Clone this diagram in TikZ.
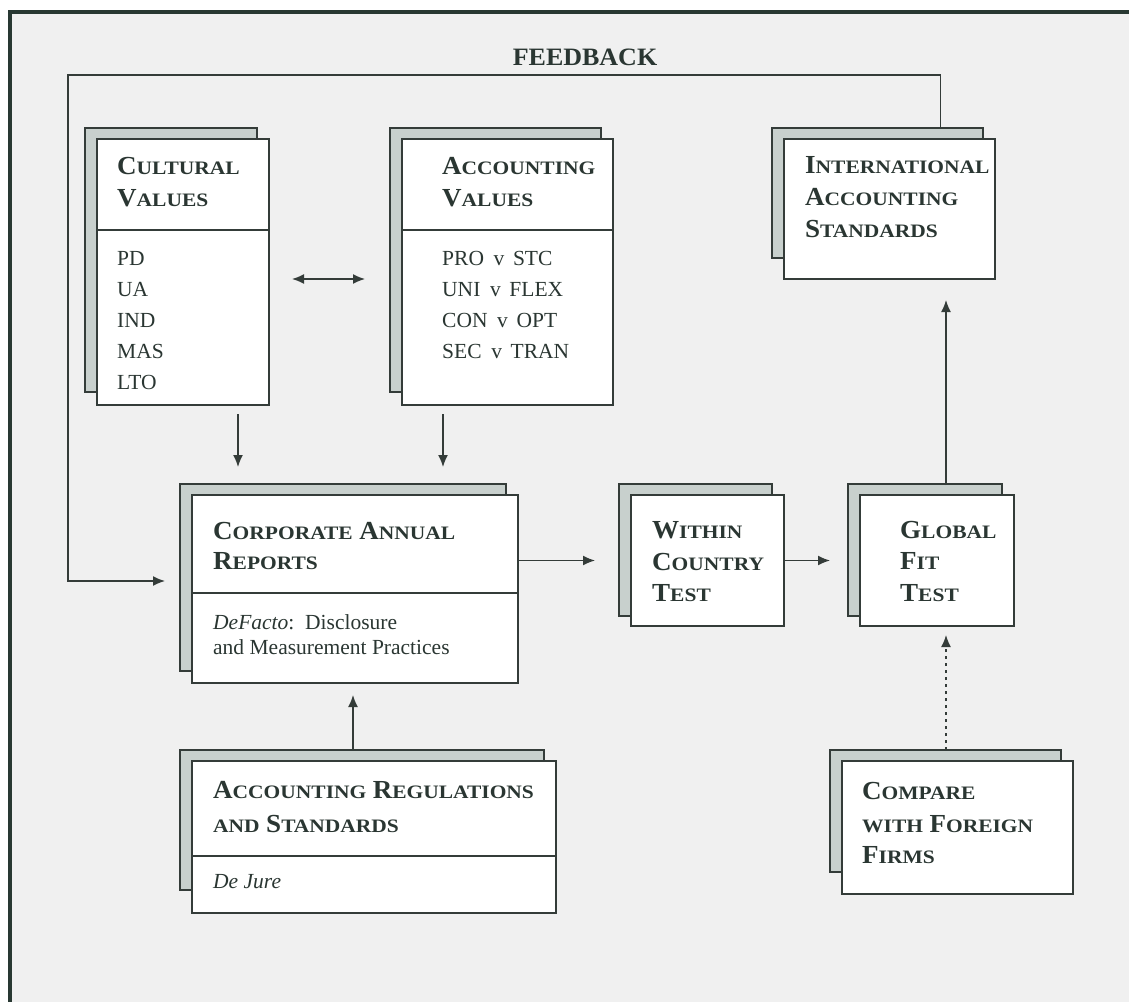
\documentclass[tikz,border=0pt]{standalone}
\usepackage{fontspec}
\setmainfont{Liberation Serif}
\newfontfamily\bigcapfont[FakeStretch=1.04]{Liberation Serif}
\newfontfamily\smallcapfont[FakeStretch=1.13]{Liberation Serif}
\usetikzlibrary{arrows.meta,calc}
\definecolor{ink}{RGB}{42,54,50}
\definecolor{linec}{RGB}{52,60,57}
\definecolor{shade}{RGB}{200,208,205}
\definecolor{bgc}{RGB}{240,240,240}
\definecolor{framec}{RGB}{40,56,50}
\newcommand\SC[2]{{\bigcapfont\bfseries\fontsize{26}{26}\selectfont #1}{\smallcapfont\bfseries\fontsize{19}{19}\selectfont #2}}
\newcommand\SL[1]{{\smallcapfont\bfseries\fontsize{19}{19}\selectfont #1}}
\newcommand\dbox[6]{%
  \draw[backbox] (#2-11,#3-10) rectangle ++(#4,#6);
  \node[frontbox, anchor=north west, minimum width=#4pt, minimum height=#5pt] (#1) at (#2,#3) {};}
\tikzset{
  frontbox/.style={draw=linec, line width=2pt, fill=white, inner sep=0pt},
  backbox/.style={draw=linec, line width=2pt, fill=shade},
  divline/.style={draw=linec, line width=2pt},
  ttl/.style={anchor=base west, inner sep=0pt, text=ink, font=\bfseries\fontsize{26}{26}\selectfont},
  bod/.style={anchor=base west, inner sep=0pt, text=ink, font=\fontsize{21.5}{21.5}\selectfont},
  arr/.style={draw=linec, line width=1.5pt, -{Latex[length=12pt,width=10pt]}},
  darr/.style={draw=linec, line width=1.5pt, {Latex[length=12pt,width=10pt]}-{Latex[length=12pt,width=10pt]}},
  dotarr/.style={arr, dash pattern=on 3pt off 4pt},
}
\begin{document}
\begin{tikzpicture}[x=1pt, y=-1pt]
\useasboundingbox (0,0) rectangle (1129,1001);
\fill[bgc] (10,12) rectangle (1140,1010);
\draw[framec, line width=4pt] (10,1010) -- (10,12) -- (1140,12);

% boxes
\dbox{cv}{96}{138}{172}{266}{264}
\dbox{av}{401}{138}{211}{266}{264}
\dbox{ias}{783}{138}{211}{140}{130}
\dbox{car}{191}{494}{326}{188}{187}
\dbox{wct}{630}{494}{153}{131}{132}
\dbox{gft}{859}{494}{154}{131}{132}
\dbox{reg}{191}{760}{364}{152}{140}
\dbox{cmp}{841}{760}{231}{133}{122}

% dividers
\draw[divline] ([yshift=-92pt]cv.north west) -- ([yshift=-92pt]cv.north east);
\draw[divline] ([yshift=-92pt]av.north west) -- ([yshift=-92pt]av.north east);
\draw[divline] ([yshift=-99pt]car.north west) -- ([yshift=-99pt]car.north east);
\draw[divline] ([yshift=-96pt]reg.north west) -- ([yshift=-96pt]reg.north east);

% texts
\node[ttl] (cvt1) at (117,174) {\SC{C}{ULTURAL}};
\node[ttl] (cvt2) at (117,206) {\SC{V}{ALUES}};
\node[bod] (cvb1) at (117,265) {PD};
\node[bod] (cvb2) at (117,296) {UA};
\node[bod] (cvb3) at (117,327) {IND};
\node[bod] (cvb4) at (117,358) {MAS};
\node[bod] (cvb5) at (117,389) {LTO};

\node[ttl] (avt1) at (442,174) {\SC{A}{CCOUNTING}};
\node[ttl] (avt2) at (442,206) {\SC{V}{ALUES}};
\node[bod] (avb1) at (442,265) {PRO\hspace{0.45em}v\hspace{0.4em}STC};
\node[bod] (avb2) at (442,296) {UNI\hspace{0.45em}v\hspace{0.4em}FLEX};
\node[bod] (avb3) at (442,327) {CON\hspace{0.45em}v\hspace{0.4em}OPT};
\node[bod] (avb4) at (442,358) {SEC\hspace{0.45em}v\hspace{0.4em}TRAN};

\node[ttl] (iat1) at (805,173) {\SC{I}{NTERNATIONAL}};
\node[ttl] (iat2) at (805,205) {\SC{A}{CCOUNTING}};
\node[ttl] (iat3) at (805,237) {\SC{S}{TANDARDS}};

\node[ttl] (cat1) at (213,539) {\SC{C}{ORPORATE} \SC{A}{NNUAL}};
\node[ttl] (cat2) at (213,569) {\SC{R}{EPORTS}};
\node[bod] (cab1) at (213,629) {\textit{DeFacto}:\ \ Disclosure};
\node[bod] (cab2) at (213,654) {and Measurement Practices};

\node[ttl] (wct1) at (652,538) {\SC{W}{ITHIN}};
\node[ttl] (wct2) at (652,570) {\SC{C}{OUNTRY}};
\node[ttl] (wct3) at (652,601) {\SC{T}{EST}};

\node[ttl] (gft1) at (900,538) {\SC{G}{LOBAL}};
\node[ttl] (gft2) at (900,569) {\SC{F}{IT}};
\node[ttl] (gft3) at (900,601) {\SC{T}{EST}};

\node[ttl] (rgt1) at (213,798) {\SC{A}{CCOUNTING} \SC{R}{EGULATIONS}};
\node[ttl] (rgt2) at (213,832) {\SL{AND} \SC{S}{TANDARDS}};
\node[bod] (rgb1) at (213,888) {\textit{De Jure}};

\node[ttl] (cmt1) at (862,799) {\SC{C}{OMPARE}};
\node[ttl] (cmt2) at (862,832) {\SL{WITH} \SC{F}{OREIGN}};
\node[ttl] (cmt3) at (862,863) {\SC{F}{IRMS}};

\node[anchor=base, inner sep=0pt, text=ink, font=\bigcapfont\bfseries\fontsize{25}{25}\selectfont] (fb) at (585,65) {FEEDBACK};

% connectors
\draw[darr] ([xshift=22pt,yshift=-7pt]cv.east) -- ([xshift=-36pt,yshift=-7pt]av.west);
\draw[arr, shorten <=8pt, shorten >=27pt] ([xshift=55pt]cv.south) -- ([xshift=-117pt]car.north);
\draw[arr, shorten <=8pt, shorten >=27pt] ([xshift=-64.5pt]av.south) -- ([xshift=88pt]car.north);
\coordinate (fbL) at (68,75);
\coordinate (fbR) at ([xshift=51pt]ias.north |- fbL);
\draw[arr, shorten >=26pt] ([xshift=51pt,yshift=10pt]ias.north) -- (fbR) -- (fbL) |- ([yshift=8pt]car.west);
\draw[arr, shorten >=35pt] (car.east |- wct.west) -- (wct.west);
\draw[arr, shorten >=29pt] (wct.east) -- (gft.west);
\draw[arr, shorten >=20pt] ([xshift=9pt,yshift=9pt]gft.north) -- ([xshift=9pt]gft.north |- ias.south);
\draw[dotarr, shorten >=8pt] ([xshift=-11.5pt,yshift=10pt]cmp.north) -- ([xshift=-11.5pt]cmp.north |- gft.south);
\draw[arr, shorten >=11pt] ([xshift=-21pt,yshift=10pt]reg.north) -- ([xshift=-21pt]reg.north |- car.south);
\end{tikzpicture}
\end{document}
